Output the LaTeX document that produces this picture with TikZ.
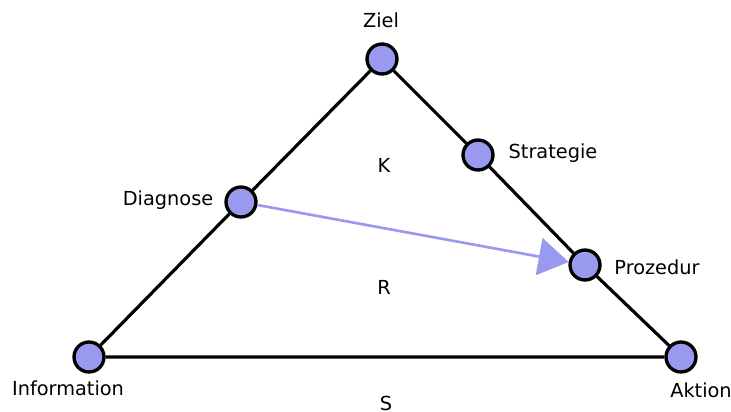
\documentclass[tikz,border=0pt]{standalone}
\usepackage{fontspec}
\setmainfont{DejaVu Sans}
\usetikzlibrary{arrows.meta, positioning}
\definecolor{dotblue}{RGB}{153,153,240}

\begin{document}
\begin{tikzpicture}[x=0.02cm, y=-0.02cm,
    dot/.style={circle, draw=black, line width=1.9pt, fill=dotblue, minimum size=0.6cm, inner sep=0pt},
    lbl/.style={font=\fontsize{11}{13}\selectfont, inner sep=1pt},
    edge/.style={line width=1.8pt, black}]
  \useasboundingbox (0,0) rectangle (731,412);
  % corners and side points
  \node[dot] (ziel) at (382,59) {};
  \node[dot] (info) at (89,357) {};
  \node[dot] (aktion) at (681,357) {};
  \node[dot] (diag) at (241,202) {};
  \node[dot] (strat) at (478,155) {};
  \node[dot] (proz) at (585,265) {};
  % triangle
  \draw[edge] (info) -- (diag) -- (ziel) -- (strat) -- (proz) -- (aktion) -- (info);
  % arrow
  \draw[dotblue, line width=1.5pt, -{Triangle[length=0.6cm, width=0.75cm]}] (diag) -- (proz);
  % labels
  \node[lbl] (lziel) at (381,20) {Ziel};
  \node[lbl] (lstrat) at (553,153) {Strategie};
  \node[lbl] (ldiag) at (168,200) {Diagnose};
  \node[lbl] (lproz) at (657,267) {Prozedur};
  \node[lbl] (linfo) at (68,388) {Information};
  \node[lbl] (lakt) at (701,390) {Aktion};
  \node[lbl] (k) at (384,165) {K};
  \node[lbl] (r) at (384,287) {R};
  \node[lbl] (s) at (386,403) {S};
\end{tikzpicture}
\end{document}
